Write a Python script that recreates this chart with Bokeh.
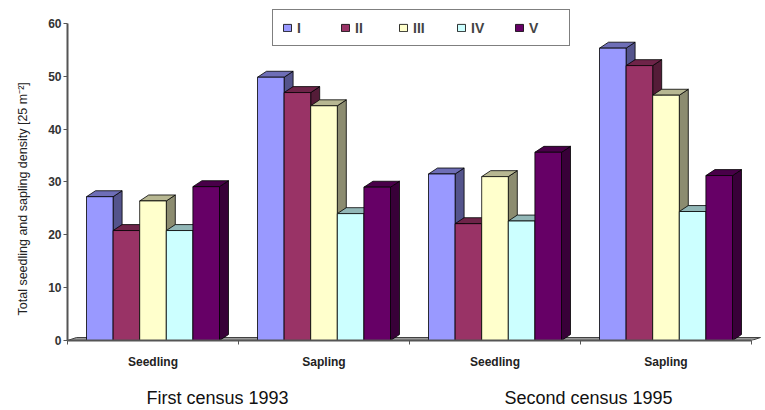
from bokeh.plotting import figure
from bokeh.models import Range1d, FixedTicker, Legend, LegendItem, LinearAxis, Title
from bokeh.embed import file_html
from bokeh.resources import INLINE

# ---------------- data ----------------
categories = ["Seedling", "Sapling", "Seedling", "Sapling"]
groups = ["First census 1993", "Second census 1995"]
series = ["I", "II", "III", "IV", "V"]
vals_I = [27.2, 49.8, 31.5, 55.3]
vals_II = [20.8, 46.9, 22.1, 52.0]
vals_III = [26.4, 44.4, 31.0, 46.4]
vals_IV = [20.8, 24.0, 22.6, 24.4]
vals_V = [29.1, 29.0, 35.6, 31.2]
y_ticks = [0, 10, 20, 30, 40, 50, 60]
y_title = "Total seedling and sapling density [25 m\u207b\u00b2]"

all_vals = [vals_I, vals_II, vals_III, vals_IV, vals_V]
front_colors = ["#9999FF", "#993366", "#FFFFCC", "#CCFFFF", "#660066"]

FONT = "Liberation Sans"

def shade(hexcol, f):
    h = hexcol.lstrip("#")
    r, g, b = (int(h[i:i + 2], 16) for i in (0, 2, 4))
    return "#%02x%02x%02x" % (int(r * f), int(g * f), int(b * f))

# ---------------- geometry (pixels -> data units) ----------------
PX_X = 171.0          # pixels per category
PX_Y = 320.0 / 60.0   # pixels per y unit
frame_w = 696
frame_h = 343
x_end = frame_w / PX_X
y_end = frame_h / PX_Y
dx = 9 / PX_X
dy = 6 / PX_Y
bw = 26.6 / PX_X

p = figure(width=765, height=410, output_backend="svg", toolbar_location=None,
           x_range=Range1d(0, x_end), y_range=Range1d(0, y_end),
           min_border_left=67, min_border_right=2, min_border_top=0,
           min_border_bottom=67)
p.outline_line_color = None
p.xgrid.visible = False
p.ygrid.visible = False
p.background_fill_color = "white"
p.border_fill_color = "white"

ncat = len(categories)
centers = [i + 0.5 for i in range(ncat)]

# floor
fdy = 3 / PX_Y
p.patch([0, ncat, ncat + dx, dx], [0, 0, fdy, fdy], fill_color="#9a9a9a",
        line_color="#404040", line_width=1)

side_xs, side_ys, side_c = [], [], []
top_xs, top_ys, top_c = [], [], []
for j, vals in enumerate(all_vals):
    for i, v in enumerate(vals):
        xc = centers[i] + (j - 2) * bw
        xl, xr = xc - bw / 2, xc + bw / 2
        side_xs.append([xr, xr + dx, xr + dx, xr])
        side_ys.append([0, dy, v + dy, v])
        side_c.append(shade(front_colors[j], 0.55))
        top_xs.append([xl, xr, xr + dx, xl + dx])
        top_ys.append([v, v, v + dy, v + dy])
        top_c.append(shade(front_colors[j], 0.72))

p.patches(side_xs, side_ys, fill_color=side_c, line_color="black", line_width=0.8)
p.patches(top_xs, top_ys, fill_color=top_c, line_color="black", line_width=0.8)

fronts = []
for j, vals in enumerate(all_vals):
    xs = [centers[i] + (j - 2) * bw for i in range(ncat)]
    r = p.vbar(x=xs, width=bw, top=vals, bottom=0, fill_color=front_colors[j],
               line_color="black", line_width=0.8)
    fronts.append(r)

legend = Legend(items=[LegendItem(label=s, renderers=[fronts[j]]) for j, s in enumerate(series)],
                orientation="horizontal", location=(205, 294), margin=0,
                padding=9, spacing=12, glyph_width=10, glyph_height=9,
                label_standoff=5, label_width=31, label_height=17,
                label_text_font=FONT, label_text_font_size="14px",
                label_text_font_style="bold", border_line_color="black",
                border_line_width=1.5, background_fill_color="white",
                background_fill_alpha=1.0)
p.add_layout(legend)

# y axis
ya = p.yaxis[0]
ya.ticker = FixedTicker(ticks=y_ticks)
ya.bounds = (0, 60)
ya.axis_line_color = "#555555"
ya.axis_line_width = 2
ya.major_tick_in = 0
ya.major_tick_out = 4
ya.major_tick_line_color = "#555555"
ya.minor_tick_line_color = None
ya.major_label_standoff = 2
ya.major_label_text_font = FONT
ya.major_label_text_font_size = "12px"
ya.major_label_text_font_style = "bold"
ya.major_label_text_color = "#333333"

# y title
p.add_layout(Title(text=y_title, align="left", offset=25, vertical_align="top",
                   standoff=28, text_font=FONT, text_font_size="12.5px",
                   text_font_style="normal", text_color="#222222"), "left")

# x axis (categories)
xa = p.xaxis[0]
xa.ticker = FixedTicker(ticks=centers, minor_ticks=list(range(ncat + 1)))
xa.major_label_overrides = {c: categories[i] for i, c in enumerate(centers)}
xa.bounds = (0, ncat)
xa.axis_line_color = "#555555"
xa.axis_line_width = 2
xa.major_tick_in = 0
xa.major_tick_out = 0
xa.minor_tick_in = 0
xa.minor_tick_out = 4
xa.minor_tick_line_color = "#555555"
xa.major_label_standoff = 10
xa.major_label_text_font = FONT
xa.major_label_text_font_size = "12px"
xa.major_label_text_font_style = "bold"
xa.major_label_text_color = "#222222"

# group axis (census labels)
group_centers = [1, 3]
label_shift_px = [-21, 8]
gticks = [gc + s / PX_X for gc, s in zip(group_centers, label_shift_px)]
ga = LinearAxis(ticker=FixedTicker(ticks=gticks),
                major_label_overrides={t: groups[i] for i, t in enumerate(gticks)})
ga.axis_line_color = None
ga.major_tick_line_color = None
ga.minor_tick_line_color = None
ga.major_tick_out = 0
ga.major_tick_in = 0
ga.major_label_standoff = 16
ga.major_label_text_font = FONT
ga.major_label_text_font_size = "18px"
ga.major_label_text_color = "#111111"
p.add_layout(ga, "below")

open("out.html", "w").write(file_html(p, INLINE))
